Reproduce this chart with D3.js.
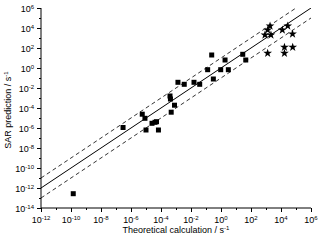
<!DOCTYPE html>
<html>
<head>
<meta charset="utf-8">
<script src="https://cdn.jsdelivr.net/npm/d3@7/dist/d3.min.js"></script>
<style>
  body { margin: 0; padding: 0; background: #fff; }
  svg text { font-family: "Liberation Sans", Arial, sans-serif; fill: #000; }
</style>
</head>
<body>
<script>
// log10 values
var squareX = [-9.85, -6.53, -5.25, -5.07, -5.0, -4.6, -4.4, -4.3, -4.17, -3.4, -3.37, -3.1, -3.32,
               -2.87, -2.45, -1.8, -1.42, -0.51, -0.89, -0.02, 0.49, -0.62, 0.27, 1.45, 1.65];
var squareY = [-12.57, -5.95, -4.62, -5.03, -6.2, -5.53, -5.43, -5.37, -6.2, -2.8, -3.1, -3.72, -4.42,
               -1.43, -1.63, -1.43, -1.63, -1.1, -0.17, -0.17, -0.17, 1.3, 0.8, 1.37, 0.8];
var starX = [3.27, 3.11, 2.93, 3.33, 4.09, 4.45, 4.77, 4.23, 4.78, 4.23, 3.11];
var starY = [4.2, 3.8, 3.3, 3.3, 3.8, 4.2, 3.4, 2.07, 2.07, 1.47, 1.47];
var xTicks = [-12, -10, -8, -6, -4, -2, 0, 2, 4, 6];
var yTicks = [-14, -12, -10, -8, -6, -4, -2, 0, 2, 4, 6];
var lineOffsets = [0, 1, -1];   // y = x, 10x, x/10

var w = 320, h = 241;
var x = d3.scaleLinear().domain([-12, 6]).range([41, 311]);
var y = d3.scaleLinear().domain([-14, 6]).range([208, 8]);

var svg = d3.select("body").append("svg").attr("width", w).attr("height", h);

svg.append("clipPath").attr("id", "clip")
  .append("rect").attr("x", 41).attr("y", 8).attr("width", 270).attr("height", 200);

// reference lines
var line = d3.line().x(function(d) { return x(d[0]); }).y(function(d) { return y(d[1]); });
svg.append("g").attr("clip-path", "url(#clip)")
  .selectAll("path").data(lineOffsets).enter().append("path")
  .attr("d", function(o) { return line([[-12, -12 + o], [6, 6 + o]]); })
  .attr("fill", "none")
  .attr("stroke", function(o) { return o === 0 ? "#000" : "#333"; })
  .attr("stroke-width", 1)
  .attr("stroke-dasharray", function(o) { return o === 0 ? null : "4,3"; });

// axes
function supLabel(sel, v) {
  sel.text("");
  sel.append("tspan").text("10");
  sel.append("tspan").attr("dy", "-0.45em").attr("font-size", "6px").text(v);
}

var xMinor = d3.range(-12, 7, 1);
var yMinor = d3.range(-14, 7, 1);

var gx = svg.append("g").attr("transform", "translate(0,208)");
gx.call(d3.axisBottom(x).tickValues(xMinor).tickSize(2).tickFormat(""));
gx.selectAll(".tick line").attr("y2", function(d) { return d % 2 === 0 ? 4 : 2; });
gx.selectAll(".tick text").remove();
gx.select(".domain").attr("d", "M41,0H311");
gx.selectAll(".xl").data(xTicks).enter().append("text").attr("class", "xl")
  .attr("x", function(d) { return x(d); }).attr("y", 15)
  .attr("text-anchor", "middle").attr("font-size", "9px")
  .each(function(d) { supLabel(d3.select(this), d); });

var gy = svg.append("g").attr("transform", "translate(41,0)");
gy.call(d3.axisLeft(y).tickValues(yMinor).tickSize(2).tickFormat(""));
gy.selectAll(".tick line").attr("x2", function(d) { return d % 2 === 0 ? -4 : -2; });
gy.select(".domain").attr("d", "M0,8V208");
gy.selectAll(".yl").data(yTicks).enter().append("text").attr("class", "yl")
  .attr("x", -7).attr("y", function(d) { return y(d) + 3.5; })
  .attr("text-anchor", "end").attr("font-size", "9px")
  .each(function(d) { supLabel(d3.select(this), d); });

svg.selectAll(".domain, .tick line").attr("stroke", "#000").attr("stroke-width", 1);

// axis titles
var xt = svg.append("text").attr("x", 176).attr("y", 233).attr("text-anchor", "middle").attr("font-size", "9px");
xt.append("tspan").text("Theoretical calculation / s");
xt.append("tspan").attr("dy", "-0.45em").attr("font-size", "6px").text("-1");

var yt = svg.append("text").attr("transform", "translate(11,110) rotate(-90)")
  .attr("text-anchor", "middle").attr("font-size", "9px");
yt.append("tspan").text("SAR prediction / s");
yt.append("tspan").attr("dy", "-0.45em").attr("font-size", "6px").text("-1");

// points
svg.selectAll(".sq").data(squareX).enter().append("rect").attr("class", "sq")
  .attr("x", function(d) { return x(d) - 2.5; })
  .attr("y", function(d, i) { return y(squareY[i]) - 2.5; })
  .attr("width", 5).attr("height", 5).attr("fill", "#000");

var star = d3.symbol().type(d3.symbolStar).size(24);
svg.selectAll(".st").data(starX).enter().append("path").attr("class", "st")
  .attr("d", star)
  .attr("transform", function(d, i) { return "translate(" + x(d) + "," + y(starY[i]) + ")"; })
  .attr("fill", "#000");
</script>
</body>
</html>
